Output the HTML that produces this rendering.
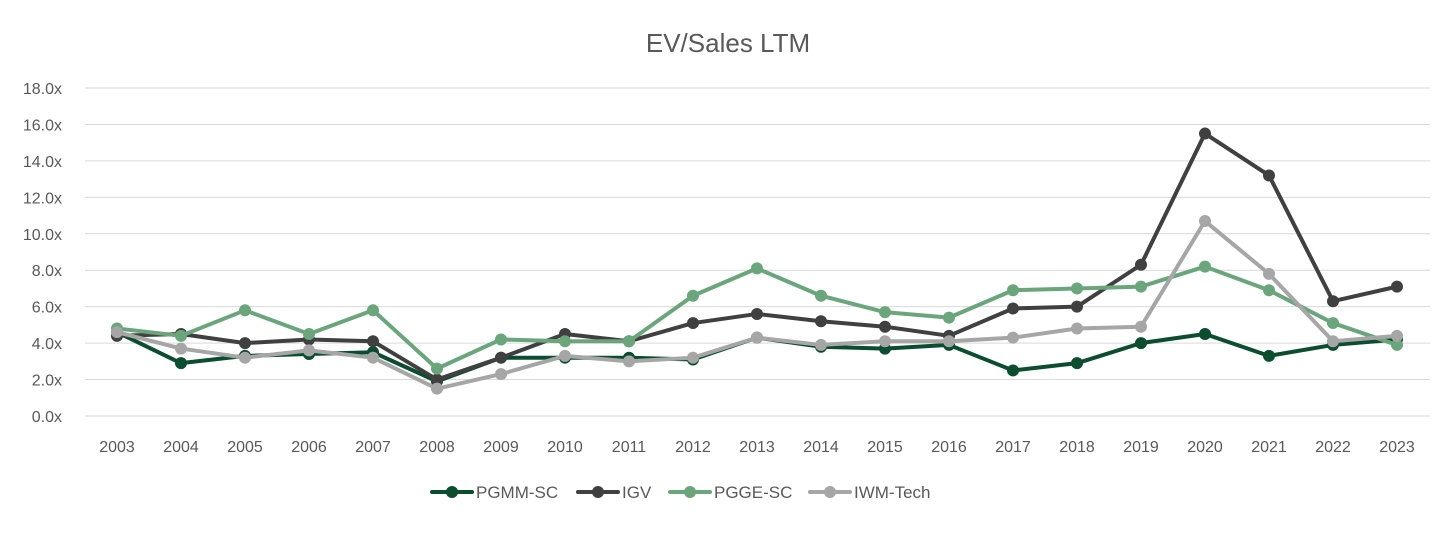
<!DOCTYPE html>
<html><head><meta charset="utf-8"><style>
body{margin:0;background:#fff;font-family:"Liberation Sans",sans-serif}
</style></head><body>
<svg id="c" width="1456" height="528" xmlns="http://www.w3.org/2000/svg">
<text x="728" y="52" text-anchor="middle" font-size="26" fill="#595959">EV/Sales LTM</text>
<g id="grid"></g><g id="series"></g><g id="legend"></g>
</svg>
<script>
const years=["2003","2004","2005","2006","2007","2008","2009","2010","2011","2012","2013","2014","2015","2016","2017","2018","2019","2020","2021","2022","2023"];
const yTicks=[0,2,4,6,8,10,12,14,16,18];
const pgmm=[4.6,2.9,3.3,3.4,3.5,1.9,3.2,3.2,3.2,3.1,4.3,3.8,3.7,3.9,2.5,2.9,4.0,4.5,3.3,3.9,4.2];
const igv=[4.4,4.5,4.0,4.2,4.1,2.0,3.2,4.5,4.1,5.1,5.6,5.2,4.9,4.4,5.9,6.0,8.3,15.5,13.2,6.3,7.1];
const pgge=[4.8,4.4,5.8,4.5,5.8,2.6,4.2,4.1,4.1,6.6,8.1,6.6,5.7,5.4,6.9,7.0,7.1,8.2,6.9,5.1,3.9];
const iwm=[4.6,3.7,3.2,3.6,3.2,1.5,2.3,3.3,3.0,3.2,4.3,3.9,4.1,4.1,4.3,4.8,4.9,10.7,7.8,4.1,4.4];
const NS="http://www.w3.org/2000/svg";
const x=i=>117+i*64, y=v=>416-v*(328/18);
function mk(t,a,p){const e=document.createElementNS(NS,t);for(const k in a)e.setAttribute(k,a[k]);p.appendChild(e);return e;}
const g=document.getElementById('grid');
yTicks.forEach(t=>{
 const l=mk('line',{x1:85,x2:1430,y1:y(t),y2:y(t),stroke:'#d9d9d9','stroke-width':1},g);
 
 
 const tx=mk('text',{x:62,y:y(t)+6,'text-anchor':'end','font-size':16,fill:'#595959'},g);
 tx.textContent=t.toFixed(1)+'x';
 
 
});
years.forEach((yr,i)=>{
 const tx=mk('text',{x:x(i),y:452,'text-anchor':'middle','font-size':16,fill:'#595959'},g);
 tx.textContent=yr;
 
 
});
const ser=[["PGMM-SC",pgmm,"#0b4d2e"],["IGV",igv,"#404040"],["PGGE-SC",pgge,"#6aa57c"],["IWM-Tech",iwm,"#a6a6a6"]];
const sg=document.getElementById('series');
ser.forEach(([n,d,c])=>{
 const gg=mk('g',{},sg);
 
 
 const p=mk('polyline',{points:d.map((v,i)=>x(i)+','+y(v)).join(' '),fill:'none',stroke:c,'stroke-width':4,'stroke-linejoin':'round'},gg);
 
 
 d.forEach((v,i)=>{
  const ci=mk('circle',{cx:x(i),cy:y(v),r:6,fill:c},gg);
  
  
 });
});
const lg=document.getElementById('legend');
const lx=[432,578,670,810];
ser.forEach(([n,d,c],i)=>{
 const e=mk('g',{},lg);
 
 
 mk('line',{x1:lx[i],x2:lx[i]+40,y1:492,y2:492,stroke:c,'stroke-width':4,'stroke-linecap':'round'},e);
 mk('circle',{cx:lx[i]+20,cy:492,r:6,fill:c},e);
 const t=mk('text',{x:lx[i]+44,y:498,'font-size':17,fill:'#595959'},e);
 t.textContent=n;
});
</script>
</body></html>
